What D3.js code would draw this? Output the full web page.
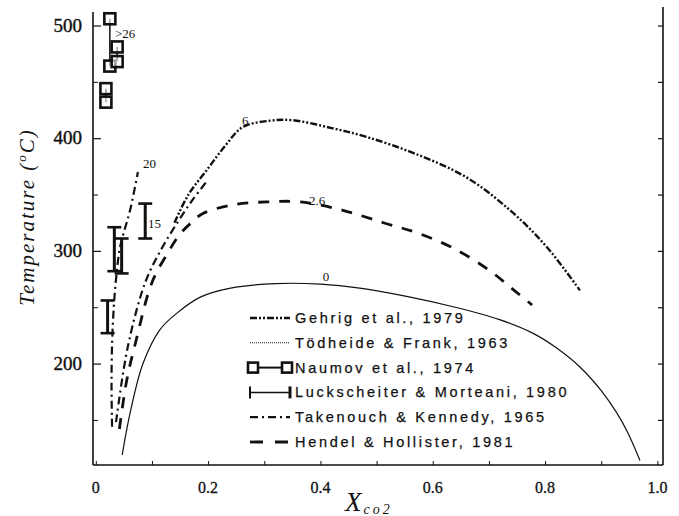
<!DOCTYPE html>
<html><head><meta charset="utf-8">
<script src="https://cdn.jsdelivr.net/npm/d3@7"></script>
<style>body{margin:0;background:#fff}</style>
</head><body><svg id="c" width="679" height="516"></svg>
<script>
// ---- data ----
const xTickValues = [0, 0.2, 0.4, 0.6, 0.8, 1.0];
const xTickLabels = ["0", "0.2", "0.4", "0.6", "0.8", "1.0"];
const xMinorTicks = [0.1, 0.3, 0.5, 0.7, 0.9];
const yTickValues = [200, 300, 400, 500];
const yMinorTicks = [150, 250, 350, 450];

// Tödheide & Frank, 1963 (solid, "0")
const todheide = [[0.047,119],[0.061,156],[0.084,200],[0.114,230],[0.145,245],[0.186,259],[0.24,267],[0.32,271],[0.40,270.5],[0.47,267],[0.56,259],[0.64,250],[0.719,239],[0.778,227],[0.82,214],[0.862,197],[0.90,176],[0.928,156],[0.948,138],[0.969,114]];
// Gehrig et al., 1979 ("6")
const gehrig = [[0.14,325],[0.165,350],[0.198,372],[0.23,393],[0.262,410],[0.31,415.5],[0.35,416],[0.42,409],[0.483,401],[0.57,386],[0.661,365],[0.74,335],[0.803,303.5],[0.862,265]];
// Hendel & Hollister, 1981 ("2.6")
const hendel = [[0.042,142],[0.055,185],[0.072,221],[0.10,272],[0.128,298],[0.15,315],[0.17,325],[0.19,333],[0.245,341],[0.305,343.5],[0.364,343.5],[0.44,336],[0.512,325],[0.572,316],[0.636,302.6],[0.70,283],[0.745,265],[0.777,252]];
// Takenouch & Kennedy, 1965 ("20" branch and second branch)
const takenouchA = [[0.029,144],[0.028,180],[0.029,218],[0.032,250],[0.036,275],[0.043,303],[0.052,320],[0.061,336],[0.075,370]];
const takenouchB = [[0.036,148],[0.057,215],[0.088,272],[0.115,300],[0.145,325],[0.172,345],[0.198,362]];
// Naumov et al., 1974: [x, Tlow, Thigh]
const naumov = [[0.018,432,444],[0.025,464,506],[0.038,468,481]];
// Luckscheiter & Morteani, 1980: [x, Tlow, Thigh]
const luckscheiter = [[0.021,227,256],[0.033,282,321],[0.046,280,311],[0.088,311,342]];
// curve annotations
const curveLabels = [
  {text:"0", x:0.41, y:273, anchor:"middle"},
  {text:"2.6", x:0.394, y:340.7, anchor:"middle"},
  {text:"6", x:0.266, y:412, anchor:"middle"},
  {text:"20", x:0.084, y:373.5, anchor:"start"},
  {text:"15", x:0.093, y:320, anchor:"start"},
  {text:">26", x:0.034, y:489, anchor:"start"}
];
const legendLabels = ["Gehrig et al., 1979","Tödheide & Frank, 1963","Naumov et al., 1974","Luckscheiter & Morteani, 1980","Takenouch & Kennedy, 1965","Hendel & Hollister, 1981"];

// ---- drawing ----
const svg = d3.select("#c");
const ink = "#111";
const x = d3.scaleLinear().domain([-0.005, 1.01]).range([93, 663]);
const y = d3.scaleLinear().domain([110, 512]).range([465, 12]);

const styles = {
  gehrig: {w:2.4, dash:"7,2,2,2,2,2"},
  todheide: {w:1.2, dash:null},
  takenouch: {w:2.2, dash:"8,4,2,4"},
  hendel: {w:2.8, dash:"11,10"}
};

// axes
const axisG = svg.append("g").attr("stroke", ink).attr("fill","none");
axisG.append("line").attr("x1",93).attr("x2",93).attr("y1",12).attr("y2",465).attr("stroke-width",1.6);
axisG.append("line").attr("x1",663).attr("x2",663).attr("y1",7).attr("y2",465).attr("stroke-width",1.6);
axisG.append("line").attr("x1",93).attr("x2",663).attr("y1",465).attr("y2",465).attr("stroke-width",1.6);

// left ticks
svg.append("g").attr("transform","translate(93,0)")
  .call(d3.axisRight(y).tickValues(yTickValues).tickSize(8).tickFormat(""))
  .call(g=>{g.select(".domain").remove(); g.selectAll("line").attr("stroke",ink).attr("stroke-width",1.2);});
svg.append("g").attr("transform","translate(93,0)")
  .call(d3.axisRight(y).tickValues(yMinorTicks).tickSize(5).tickFormat(""))
  .call(g=>{g.select(".domain").remove(); g.selectAll("line").attr("stroke",ink).attr("stroke-width",1);});
// right ticks
svg.append("g").attr("transform","translate(663,0)")
  .call(d3.axisLeft(y).tickValues(yTickValues.concat(yMinorTicks)).tickSize(5).tickFormat(""))
  .call(g=>{g.select(".domain").remove(); g.selectAll("line").attr("stroke",ink).attr("stroke-width",1.2);});
// bottom ticks
svg.append("g").attr("transform","translate(0,465)")
  .call(d3.axisTop(x).tickValues(xTickValues.concat(xMinorTicks)).tickSize(4).tickFormat(""))
  .call(g=>{g.select(".domain").remove(); g.selectAll("line").attr("stroke",ink).attr("stroke-width",1);});

// tick labels
svg.append("g").selectAll("text").data(yTickValues).join("text")
  .attr("x",82).attr("y",d=>y(d)+6).attr("text-anchor","end")
  .attr("font-family","Liberation Serif, serif").attr("font-size",19).attr("fill",ink)
  .attr("stroke",ink).attr("stroke-width",0.4)
  .text(d=>d);
svg.append("g").selectAll("text").data(xTickValues).join("text")
  .attr("x",d=>x(d)).attr("y",493).attr("text-anchor","middle")
  .attr("font-family","Liberation Serif, serif").attr("font-size",16).attr("fill",ink)
  .attr("stroke",ink).attr("stroke-width",0.3)
  .text((d,i)=>xTickLabels[i]);

// axis titles
const yt = svg.append("text").attr("transform","translate(34,217) rotate(-90)")
  .attr("text-anchor","middle").attr("font-family","Liberation Serif, serif")
  .attr("font-style","italic").attr("font-size",21).attr("letter-spacing",2).attr("fill",ink);
yt.append("tspan").text("Temperature (");
yt.append("tspan").attr("font-size",13).attr("dy",-8).text("o");
yt.append("tspan").attr("dy",8).text("C)");
const xt = svg.append("text").attr("x",345).attr("y",511)
  .attr("font-family","Liberation Serif, serif").attr("font-style","italic").attr("fill",ink);
xt.append("tspan").attr("font-size",27).text("X");
xt.append("tspan").attr("font-size",14).attr("letter-spacing",3).attr("dx",2).attr("dy",3).text("co2");

// curves
const line = d3.line().x(d=>x(d[0])).y(d=>y(d[1])).curve(d3.curveCatmullRom.alpha(0.5));
function drawCurve(data, st){
  svg.append("path").datum(data).attr("d",line).attr("fill","none").attr("stroke",ink)
    .attr("stroke-width",st.w).attr("stroke-dasharray",st.dash).attr("stroke-linejoin","round");
}
drawCurve(todheide, styles.todheide);
drawCurve(gehrig, styles.gehrig);
drawCurve(hendel, styles.hendel);
drawCurve(takenouchA, styles.takenouch);
drawCurve(takenouchB, styles.takenouch);

// Luckscheiter error bars
const lg = svg.append("g").attr("stroke",ink).attr("fill","none");
luckscheiter.forEach(d=>{
  const cx = x(d[0]);
  lg.append("line").attr("x1",cx).attr("x2",cx).attr("y1",y(d[1])).attr("y2",y(d[2])).attr("stroke-width",3);
  [d[1],d[2]].forEach(v=>lg.append("line").attr("x1",cx-7).attr("x2",cx+7).attr("y1",y(v)).attr("y2",y(v)).attr("stroke-width",2.6));
});
// Naumov squares
const ng = svg.append("g").attr("stroke",ink);
naumov.forEach(d=>{
  const cx = x(d[0]);
  ng.append("line").attr("x1",cx).attr("x2",cx).attr("y1",y(d[1])).attr("y2",y(d[2])).attr("stroke-width",1.5);
  [d[1],d[2]].forEach(v=>ng.append("rect").attr("x",cx-5.5).attr("y",y(v)-5.5).attr("width",11).attr("height",11)
     .attr("fill","#fff").attr("fill-opacity",0.6).attr("stroke-width",2.6));
});

// curve labels
svg.append("g").selectAll("text").data(curveLabels).join("text")
  .attr("x",d=>x(d.x)).attr("y",d=>y(d.y)).attr("text-anchor",d=>d.anchor)
  .attr("font-family","Liberation Serif, serif").attr("font-size",13).attr("fill",ink)
  .text(d=>d.text);

// legend
const leg = svg.append("g");
const rowY = i => 318 + i*24.8;
const lx0 = 250, lx1 = 290;
legendLabels.forEach((t,i)=>{
  leg.append("text").attr("x",295).attr("y",rowY(i)+5)
    .attr("font-family","Liberation Sans, sans-serif").attr("font-size",14.5)
    .attr("letter-spacing",2.7).attr("fill",ink).attr("stroke",ink).attr("stroke-width",0.25).text(t);
});
function legLine(i, st){
  leg.append("line").attr("x1",lx0).attr("x2",lx1).attr("y1",rowY(i)).attr("y2",rowY(i))
    .attr("stroke",ink).attr("stroke-width",st.w).attr("stroke-dasharray",st.dash);
}
legLine(0, styles.gehrig);
legLine(1, {w:1, dash:"1,1"});
// Naumov sample
leg.append("line").attr("x1",lx0+4).attr("x2",lx1-4).attr("y1",rowY(2)).attr("y2",rowY(2)).attr("stroke",ink).attr("stroke-width",2);
[lx0+3, lx1-3].forEach(cx=>leg.append("rect").attr("x",cx-5).attr("y",rowY(2)-5).attr("width",10).attr("height",10)
  .attr("fill","#fff").attr("stroke",ink).attr("stroke-width",2.6));
// Luckscheiter sample
leg.append("line").attr("x1",lx0).attr("x2",lx1).attr("y1",rowY(3)).attr("y2",rowY(3)).attr("stroke",ink).attr("stroke-width",1.5);
leg.append("line").attr("x1",lx0).attr("x2",lx0).attr("y1",rowY(3)-6).attr("y2",rowY(3)+6).attr("stroke",ink).attr("stroke-width",2);
leg.append("line").attr("x1",lx1).attr("x2",lx1).attr("y1",rowY(3)-6).attr("y2",rowY(3)+6).attr("stroke",ink).attr("stroke-width",3);
legLine(4, styles.takenouch);
legLine(5, {w:2.8, dash:"13,12"});
</script></body></html>
